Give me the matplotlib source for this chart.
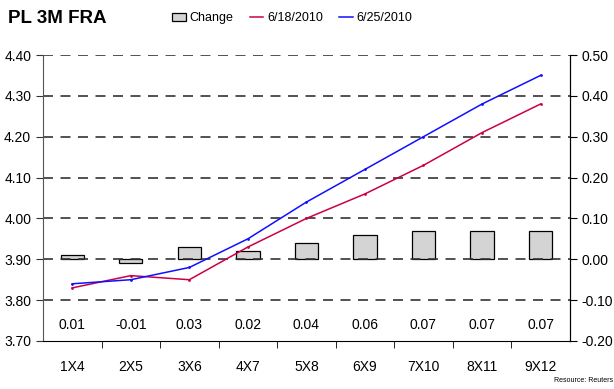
import matplotlib
matplotlib.use("Agg")
import matplotlib.pyplot as plt
from matplotlib.patches import Patch
from matplotlib.lines import Line2D
import numpy as np

plt.rcParams['font.family'] = ['Liberation Sans', 'DejaVu Sans']

tenors = ["1X4", "2X5", "3X6", "4X7", "5X8", "6X9", "7X10", "8X11", "9X12"]
fra_0618 = [3.83, 3.86, 3.85, 3.93, 4.00, 4.06, 4.13, 4.21, 4.28]
fra_0625 = [3.84, 3.85, 3.88, 3.95, 4.04, 4.12, 4.20, 4.28, 4.35]
change = [0.01, -0.01, 0.03, 0.02, 0.04, 0.06, 0.07, 0.07, 0.07]

left_ticks = [3.70, 3.80, 3.90, 4.00, 4.10, 4.20, 4.30, 4.40]
right_ticks = [-0.20, -0.10, 0.00, 0.10, 0.20, 0.30, 0.40, 0.50]

RED = "#cc0044"
BLUE = "#1010ff"
BAR = "#d4d4d4"

fig = plt.figure(figsize=(6.14, 3.89), dpi=100)
ax = fig.add_axes([0.070, 0.1234, 0.858, 0.7352])
ax2 = ax.twinx()

x = np.arange(len(tenors))

# rates on the left axis
ax.set_xlim(-0.5, len(tenors) - 0.5)
ax.set_ylim(3.70, 4.40)
for v in left_ticks[1:]:
    ax.axhline(v, color="#333333", lw=1.2, ls=(0, (6, 4.5)), zorder=1)
ax.plot(x, fra_0618, color=RED, lw=1.1, marker="o", ms=1.0, zorder=4)
ax.plot(x, fra_0625, color=BLUE, lw=1.1, marker="o", ms=1.0, zorder=4)

# weekly change on the right axis, aligned so 0.00 sits on 3.90
ax2.set_ylim(-0.20, 0.50)
ax2.bar(x, change, width=0.4, color=BAR, edgecolor="black", lw=0.9, zorder=2)
ax.set_zorder(ax2.get_zorder() + 1)
ax.patch.set_visible(False)

for xi, c in zip(x, change):
    ax2.text(xi, -0.16, f"{c:.2f}", ha="center", va="center", fontsize=10)

ax.set_yticks(left_ticks)
ax.set_yticklabels([f"{v:.2f}" for v in left_ticks], fontsize=10)
ax2.set_yticks(right_ticks)
ax2.set_yticklabels([f"{v:.2f}" for v in right_ticks], fontsize=10)

ax.set_xticks(x)
ax.set_xticklabels(tenors, fontsize=10)
ax.set_xticks(np.arange(0.5, len(tenors) - 0.5, 1.0), minor=True)
ax.tick_params(axis="x", which="major", length=0, pad=14)
ax.tick_params(axis="x", which="minor", length=5, direction="out", color="black")
ax.tick_params(axis="y", length=5, direction="out", color="#333333")
ax2.tick_params(axis="y", length=5, direction="out", color="black")

for a in (ax, ax2):
    a.spines["top"].set_visible(False)
ax.spines["left"].set_color("#555555")
ax.spines["bottom"].set_color("black")
ax2.spines["right"].set_color("black")
ax2.spines["left"].set_visible(False)
ax2.spines["bottom"].set_visible(False)

fig.text(0.013, 0.953, "PL 3M FRA", fontsize=13.5, fontweight="bold", va="center")

handles = [
    Patch(facecolor=BAR, edgecolor="black", lw=0.9),
    Line2D([0], [0], color=RED, lw=1.1),
    Line2D([0], [0], color=BLUE, lw=1.1),
]
fig.legend(handles, ["Change", "6/18/2010", "6/25/2010"], loc="center left",
           bbox_to_anchor=(0.262, 0.953), ncol=3, frameon=False, fontsize=9,
           handlelength=1.1, handletextpad=0.3, columnspacing=1.3)

fig.text(0.998, 0.012, "Resource: Reuters", fontsize=5, ha="right", va="bottom")

fig.savefig("out.png", dpi=100)
